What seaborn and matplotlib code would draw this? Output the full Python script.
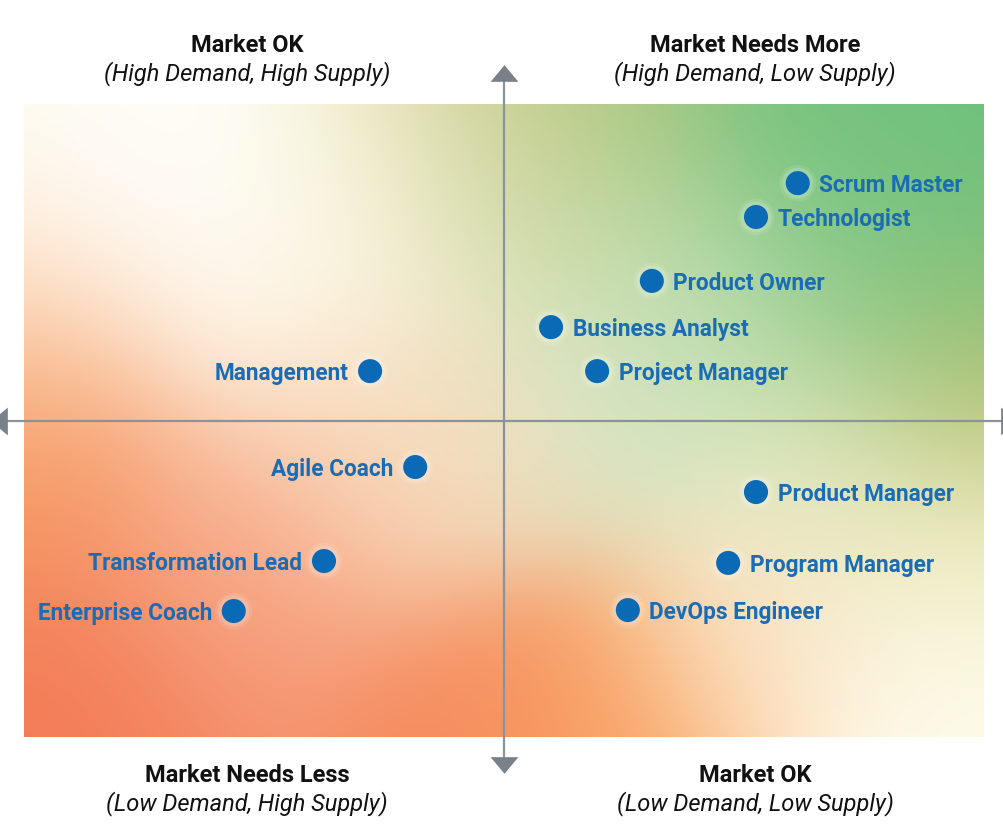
import numpy as np
import pandas as pd
import matplotlib.pyplot as plt
import seaborn as sns
from matplotlib.colors import to_rgb

sns.set_theme(style="white")
plt.rcParams['font.family'] = ['Roboto', 'DejaVu Sans']

# -----------------------------
# DATA (both axes -10..10)
# -----------------------------
roles = ["Scrum Master", "Technologist", "Product Owner", "Business Analyst",
         "Project Manager", "Management", "Agile Coach", "Product Manager",
         "Transformation Lead", "Program Manager", "Enterprise Coach", "DevOps Engineer"]
supply = [6.12, 5.25, 3.08, 0.98, 1.94, -2.79, -1.85, 5.25, -3.75, 4.67, -5.63, 2.58]
demand = [7.50, 6.43, 4.41, 2.95, 1.56, 1.56, -1.47, -2.26, -4.44, -4.50, -6.02, -5.99]
label_side = ["right", "right", "right", "right", "right", "left", "left", "right",
              "left", "right", "left", "right"]

quadrant_titles = ["Market OK", "Market Needs More", "Market Needs Less", "Market OK"]
quadrant_subtitles = ["(High Demand, High Supply)", "(High Demand, Low Supply)",
                      "(Low Demand, High Supply)", "(Low Demand, Low Supply)"]

df = pd.DataFrame({"role": roles, "supply": supply, "demand": demand, "side": label_side})

# -----------------------------
# FIGURE
# -----------------------------
W, H = 1004, 840
fig = plt.figure(figsize=(W / 100, H / 100), dpi=100)
fig.patch.set_facecolor("white")
left, top, right, bottom = 24, 104, 984, 737
ax = fig.add_axes([left / W, (H - bottom) / H, (right - left) / W, (bottom - top) / H])

# soft gradient background: blend of colour blobs (pixel positions)
blobs = [
    (24, 104, "#fcf9e4"), (70, 160, "#ffffff"), (180, 230, "#ffffff"),
    (160, 130, "#ffffff"), (270, 250, "#fffcf2"),
    (330, 160, "#fdfae6"), (410, 150, "#f3efd0"), (300, 320, "#fdefd8"),
    (480, 106, "#c3bf78"), (610, 110, "#a6c47a"), (540, 210, "#d4e3b6"),
    (800, 110, "#72c27e"), (975, 200, "#6cc07c"), (880, 280, "#86c985"),
    (700, 300, "#badcae"), (600, 400, "#d8e6c6"), (980, 385, "#b8bd6c"),
    (28, 250, "#fffdf6"), (28, 305, "#fcd6b0"), (28, 370, "#f79e64"),
    (28, 470, "#f5905e"), (90, 700, "#f37c57"), (250, 620, "#f69a77"),
    (250, 500, "#f8b697"), (400, 470, "#fbd5b6"), (470, 725, "#f5875c"),
    (600, 725, "#f9a662"), (760, 640, "#fde6cb"), (950, 710, "#fffdf0"),
    (980, 560, "#f3f0c8"), (820, 470, "#e6eac4"), (440, 420, "#f1e3c4"),
]
nx, ny = 480, 317
X, Y = np.meshgrid(np.linspace(left, right, nx), np.linspace(top, bottom, ny))
num = np.zeros((ny, nx, 3))
den = np.zeros((ny, nx))
sig = 95
for px, py, c in blobs:
    w = np.exp(-((X - px) ** 2 + (Y - py) ** 2) / (2 * sig ** 2))
    num += w[..., None] * np.array(to_rgb(c))
    den += w
img = np.clip(num / den[..., None], 0, 1)
ax.imshow(img, extent=[-10, 10, -10, 10], origin="upper", aspect="auto",
          interpolation="bilinear", zorder=0)

# axes with arrowheads
axis_col = "#8c929a"
head_col = "#78808a"
ax.plot([0, 0], [-10.9, 10.9], color=axis_col, lw=1.6, clip_on=False, zorder=2)
ax.plot([-10.4, 10.4], [0, 0], color=axis_col, lw=1.6, clip_on=False, zorder=2)
up = [(-1, -0.6), (1, -0.6), (0, 0.6)]
down = [(-1, 0.6), (1, 0.6), (0, -0.6)]
lft = [(0.6, -1), (0.6, 1), (-0.6, 0)]
rgt = [(-0.6, -1), (-0.6, 1), (0.6, 0)]
ax.plot(0, 10.98, marker=up, ms=20, color=head_col, mec="none", clip_on=False, zorder=3)
ax.plot(0, -10.88, marker=down, ms=20, color=head_col, mec="none", clip_on=False, zorder=3)
ax.plot(-10.52, 0, marker=lft, ms=20, color=head_col, mec="none", clip_on=False, zorder=3)
ax.plot(10.52, 0, marker=rgt, ms=20, color=head_col, mec="none", clip_on=False, zorder=3)

# points with a faint white glow
for s, a in [(700, 0.10), (500, 0.15)]:
    sns.scatterplot(data=df, x="supply", y="demand", s=s, color="white", alpha=a,
                    edgecolor="none", ax=ax, zorder=4, legend=False)
sns.scatterplot(data=df, x="supply", y="demand", s=300, color="#0b6ab6",
                edgecolor="none", ax=ax, zorder=5, legend=False)

for _, r in df.iterrows():
    dx = 15.5 if r["side"] == "right" else -15.5
    ax.annotate(r["role"], (r["supply"], r["demand"]), xytext=(dx, 0),
                textcoords="offset points", ha="left" if dx > 0 else "right",
                va="center_baseline", fontsize=16.3, fontweight="bold",
                color="#1a6cb4", zorder=6)

ax.set_xlim(-10, 10)
ax.set_ylim(-10, 10)
ax.axis("off")

# quadrant headings
centers = [(247, 45), (755, 45), (247, 775), (755, 775)]
for (cx, cy), t, s in zip(centers, quadrant_titles, quadrant_subtitles):
    fig.text(cx / W, 1 - cy / H, t, ha="center", va="center", fontsize=17,
             fontweight="bold", color="#111111")
    fig.text(cx / W, 1 - (cy + 29) / H, s, ha="center", va="center", fontsize=17,
             fontstyle="italic", color="#111111")

fig.savefig("out.png", dpi=100)
